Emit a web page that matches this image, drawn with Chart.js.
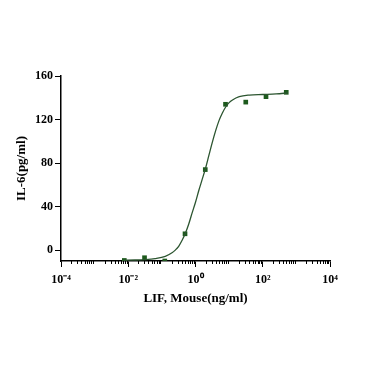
<!DOCTYPE html>
<html>
<head>
<meta charset="utf-8">
<script src="https://cdn.jsdelivr.net/npm/chart.js@4.4.1/dist/chart.umd.min.js"></script>
<style>
  html, body { margin: 0; padding: 0; background: #fff; }
  #wrap { width: 369px; height: 369px; position: relative; }
</style>
</head>
<body>
<div id="wrap"><canvas id="doseChart"></canvas></div>
<script>
// measured points (fourfold dilution from 500 ng/ml)
const concentrations = [0.00763, 0.0305, 0.122, 0.488, 1.953, 7.8125, 31.25, 125, 500];
const il6Values = [-9.5, -7, -10, 15, 74, 134, 136, 141, 145];

// fitted curve
const curveX = [0.0071, 0.016, 0.032, 0.063, 0.126, 0.2, 0.25, 0.316, 0.4, 0.5, 0.63, 0.79, 1.0, 1.26, 1.58, 2.0, 2.5, 3.16, 4.0, 5.0, 6.3, 7.9, 10, 12.6, 20, 40, 100, 250, 560];
const curveY = [-9.3, -9.1, -8.7, -7.8, -5.8, -2.5, 0, 3.5, 9, 15.5, 24, 34, 44, 55, 65, 75.5, 87, 99, 110, 119, 126, 131.5, 135.5, 138, 141, 142.5, 143, 143.5, 144.5];

const xTickValues = [1e-4, 1e-2, 1, 1e2, 1e4];
const xTickLabels = ["10\u207B\u2074", "10\u207B\u00B2", "10\u2070", "10\u00B2", "10\u2074"];
const yTickValues = [0, 40, 80, 120, 160];

const fontFamily = "'Liberation Serif', 'Times New Roman', serif";

const minorTicks = {
  id: "minorTicks",
  afterDraw(chart) {
    const xs = chart.scales.x;
    const ctx = chart.ctx;
    const bottom = chart.chartArea.bottom;
    ctx.save();
    ctx.strokeStyle = "#000";
    ctx.lineWidth = 1;
    for (let d = -4; d < 4; d++) {
      for (let k = 2; k <= 9; k++) {
        const px = Math.round(xs.getPixelForValue(k * Math.pow(10, d))) + 0.5;
        ctx.beginPath();
        ctx.moveTo(px, bottom);
        ctx.lineTo(px, bottom + 3);
        ctx.stroke();
      }
    }
    ctx.restore();
  }
};

const ctx = document.getElementById("doseChart").getContext("2d");
new Chart(ctx, {
  data: {
    datasets: [
      {
        type: "line",
        data: curveX.map((x, i) => ({ x: x, y: curveY[i] })),
        borderColor: "#2c5530",
        borderWidth: 1.3,
        pointRadius: 0,
        cubicInterpolationMode: "monotone",
        fill: false
      },
      {
        type: "scatter",
        data: concentrations.map((x, i) => ({ x: x, y: il6Values[i] })),
        backgroundColor: "#1d5a1d",
        borderColor: "#1d5a1d",
        pointStyle: "rect",
        pointRadius: 3.3,
        borderWidth: 0
      }
    ]
  },
  options: {
    responsive: true,
    maintainAspectRatio: false,
    animation: false,
    layout: { padding: { left: 10, top: 76, right: 39, bottom: 59 } },
    plugins: {
      legend: { display: false },
      tooltip: { enabled: false }
    },
    scales: {
      x: {
        type: "logarithmic",
        min: 1e-4,
        max: 1e4,
        afterBuildTicks: axis => { axis.ticks = xTickValues.map(v => ({ value: v })); },
        afterFit: axis => { axis.height = 49; },
        grid: { drawOnChartArea: false, drawTicks: true, tickLength: 6, color: "#000", lineWidth: 1 },
        border: { display: true, color: "#000", width: 1.5 },
        ticks: {
          color: "#000",
          padding: 6,
          maxRotation: 0,
          font: { family: fontFamily, size: 12, weight: "bold" },
          callback: v => {
            const i = xTickValues.findIndex(t => Math.abs(Math.log10(t) - Math.log10(v)) < 1e-6);
            return i >= 0 ? xTickLabels[i] : "";
          }
        },
        title: {
          display: true,
          text: "LIF, Mouse(ng/ml)",
          color: "#000",
          font: { family: fontFamily, size: 13, weight: "bold" }
        }
      },
      y: {
        min: -10,
        max: 160,
        afterBuildTicks: axis => { axis.ticks = yTickValues.map(v => ({ value: v })); },
        afterFit: axis => { axis.width = 51; },
        grid: { drawOnChartArea: false, drawTicks: true, tickLength: 6, color: "#000", lineWidth: 1 },
        border: { display: true, color: "#000", width: 1.5 },
        ticks: {
          color: "#000",
          padding: 2,
          font: { family: fontFamily, size: 12, weight: "bold" }
        },
        title: {
          display: true,
          text: "IL-6(pg/ml)",
          color: "#000",
          font: { family: fontFamily, size: 13, weight: "bold" }
        }
      }
    }
  },
  plugins: [minorTicks]
});
</script>
</body>
</html>
